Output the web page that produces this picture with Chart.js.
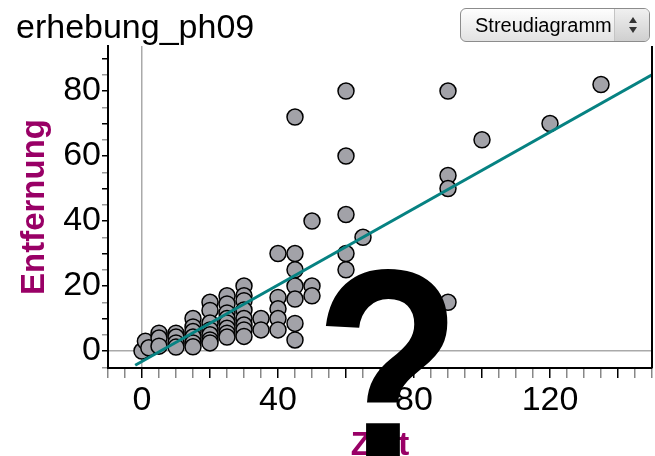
<!DOCTYPE html>
<html lang="de">
<head>
<meta charset="UTF-8">
<script src="https://cdn.jsdelivr.net/npm/chart.js"></script>
<title>erhebung_ph09</title>
<style>
  body { margin: 0; background: #fff; }
  #wrap { position: relative; width: 655px; height: 456px; }
  #mode {
    position: absolute; left: 460px; top: 8px; width: 188px; height: 32px;
    border: 1px solid #8c8c8c; border-radius: 6px;
    background: linear-gradient(#fefefe, #e2e2e2);
    font: 20px "Liberation Sans", Arial, sans-serif; line-height: 32px;
    color: #000; box-sizing: content-box; overflow: hidden;
  }
  #mode .txt { position: absolute; left: 14px; top: 0; }
  #mode .spin {
    position: absolute; right: 0; top: 0; width: 34px; height: 32px;
    background: linear-gradient(#f0f0f0, #cfcfcf); border-left: 1px solid #c4c4c4;
  }
  #mode .up, #mode .down {
    position: absolute; left: 14px; width: 0; height: 0;
    border-left: 4px solid transparent; border-right: 4px solid transparent;
  }
  #mode .up { top: 8px; border-bottom: 6px solid #333; }
  #mode .down { top: 18px; border-top: 6px solid #333; }
</style>
</head>
<body>
<div id="wrap">
  <canvas id="chart" width="655" height="456"></canvas>
  <div id="mode"><span class="txt">Streudiagramm</span><span class="spin"><span class="up"></span><span class="down"></span></span></div>
</div>

<script>
// Zeit (x) und Entfernung (y) der einzelnen Messpunkte
var ptX = [0, 1, 2, 5, 5, 5, 10, 10, 10, 10,
           15, 15, 15, 15, 15, 15,
           20, 20, 20, 20, 20, 20, 20,
           25, 25, 25, 25, 25, 25, 25, 25,
           30, 30, 30, 30, 30, 30, 30, 30,
           35, 35,
           40, 40, 40, 40, 40,
           45, 45, 45, 45, 45, 45, 45,
           50, 50, 50,
           60, 60, 60, 60, 60,
           65,
           90, 90, 90, 90,
           100, 120, 135];
var ptY = [0, 3, 1, 5.5, 4, 1.5, 5.5, 4.3, 2.5, 1.2,
           10, 7.4, 6, 4.3, 2.5, 1.3,
           15, 12.5, 8.6, 6.5, 5, 3.4, 2.5,
           17, 14.5, 11.7, 10, 8.6, 7, 5.5, 4.3,
           20, 17, 15.5, 12.6, 10, 8, 6.5, 4.5,
           10, 6.5,
           30, 16.5, 13, 10, 6.5,
           72, 30, 25, 20, 16, 8.5, 3.4,
           40, 20, 17,
           80, 60, 42, 30, 25,
           35,
           80, 54, 50, 15,
           65, 70, 82];

// Ausgleichsgerade (Endpunkte)
var fitX = [-2, 150];
var fitY = [-4.4, 85];

// Achsenbeschriftungen
var xTickLabels = [0, 40, 80, 120];
var yTickLabels = [0, 20, 40, 60, 80];

var purple = 'rgb(153,0,102)';
var fontName = '"Liberation Sans", Arial, sans-serif';

function toPoints(xs, ys) {
    return xs.map(function (x, i) { return { x: x, y: ys[i] }; });
}

function stepTicks(from, to, step) {
    var t = [];
    for (var v = from; v <= to + 1e-9; v += step) t.push({ value: v });
    return t;
}

// Titel, rechter Rahmen und das Fragezeichen
var overlay = {
    id: 'overlay',
    afterDraw: function (chart) {
        var ctx = chart.ctx, a = chart.chartArea;
        ctx.save();
        ctx.strokeStyle = '#000';
        ctx.lineWidth = 2;
        ctx.beginPath();
        ctx.moveTo(a.right, a.top);
        ctx.lineTo(a.right, a.bottom);
        ctx.stroke();

        ctx.fillStyle = '#000';
        ctx.textBaseline = 'alphabetic';
        ctx.textAlign = 'left';
        ctx.font = '34px ' + fontName;
        ctx.fillText('erhebung_ph09', 16, 38);

        // grosses Fragezeichen, etwas schmaler gezogen
        ctx.translate(388, 459);
        ctx.scale(0.88, 1);
        ctx.font = 'bold 272px ' + fontName;
        ctx.textAlign = 'center';
        ctx.fillText('?', 0, 0);
        ctx.restore();
    }
};

var ctx = document.getElementById('chart').getContext('2d');
new Chart(ctx, {
    type: 'scatter',
    data: {
        datasets: [{
            type: 'line',
            data: toPoints(fitX, fitY),
            borderColor: '#068282',
            borderWidth: 3,
            pointRadius: 0,
            fill: false,
            order: 0
        }, {
            data: toPoints(ptX, ptY),
            backgroundColor: '#a2a2a8',
            borderColor: '#000',
            borderWidth: 1.5,
            pointRadius: 8,
            pointHoverRadius: 8,
            order: 1
        }]
    },
    options: {
        responsive: false,
        animation: false,
        devicePixelRatio: 1,
        layout: { autoPadding: false, padding: { top: 46, right: 3, left: 0, bottom: 0 } },
        plugins: { legend: { display: false }, tooltip: { enabled: false } },
        events: [],
        scales: {
            x: {
                type: 'linear',
                min: -10,
                max: 150,
                afterFit: function (s) { s.height = 88; s.paddingLeft = 0; s.paddingRight = 0; },
                afterBuildTicks: function (s) { s.ticks = stepTicks(-10, 150, 5); },
                ticks: {
                    autoSkip: false,
                    maxRotation: 0,
                    padding: 2,
                    color: '#000',
                    font: { family: fontName, size: 34 },
                    callback: function (v) { return xTickLabels.indexOf(v) >= 0 ? String(v) : ''; }
                },
                grid: {
                    color: function (c) { return c.tick && c.tick.value === 0 ? '#aaaaaa' : 'rgba(0,0,0,0)'; },
                    lineWidth: 1.5,
                    tickColor: function (c) { return c.tick && c.tick.value % 20 === 0 ? '#000' : '#888'; },
                    tickLength: 10,
                    tickWidth: 1.5
                },
                border: { display: true, color: '#000', width: 2 },
                title: {
                    display: true,
                    text: 'Zeit',
                    color: purple,
                    font: { family: fontName, size: 33, weight: 'bold', lineHeight: 0.6 },
                    padding: 0
                }
            },
            y: {
                type: 'linear',
                min: -5.23,
                max: 93.85,
                afterFit: function (s) { s.width = 108; },
                afterBuildTicks: function (s) { s.ticks = stepTicks(-5, 90, 5); },
                ticks: {
                    autoSkip: false,
                    padding: 1,
                    color: '#000',
                    font: { family: fontName, size: 34 },
                    callback: function (v) { return yTickLabels.indexOf(v) >= 0 ? String(v) : ''; }
                },
                grid: {
                    color: function (c) { return c.tick && c.tick.value === 0 ? '#aaaaaa' : 'rgba(0,0,0,0)'; },
                    lineWidth: 1.5,
                    tickColor: function (c) { return c.tick && c.tick.value % 10 === 0 ? '#000' : '#999'; },
                    tickLength: 6,
                    tickWidth: 1.5
                },
                border: { display: true, color: '#000', width: 2 },
                title: {
                    display: true,
                    text: 'Entfernung',
                    color: purple,
                    font: { family: fontName, size: 33, weight: 'bold' },
                    padding: { top: 15, bottom: 0 }
                }
            }
        }
    },
    plugins: [overlay]
});
</script>
</body>
</html>
